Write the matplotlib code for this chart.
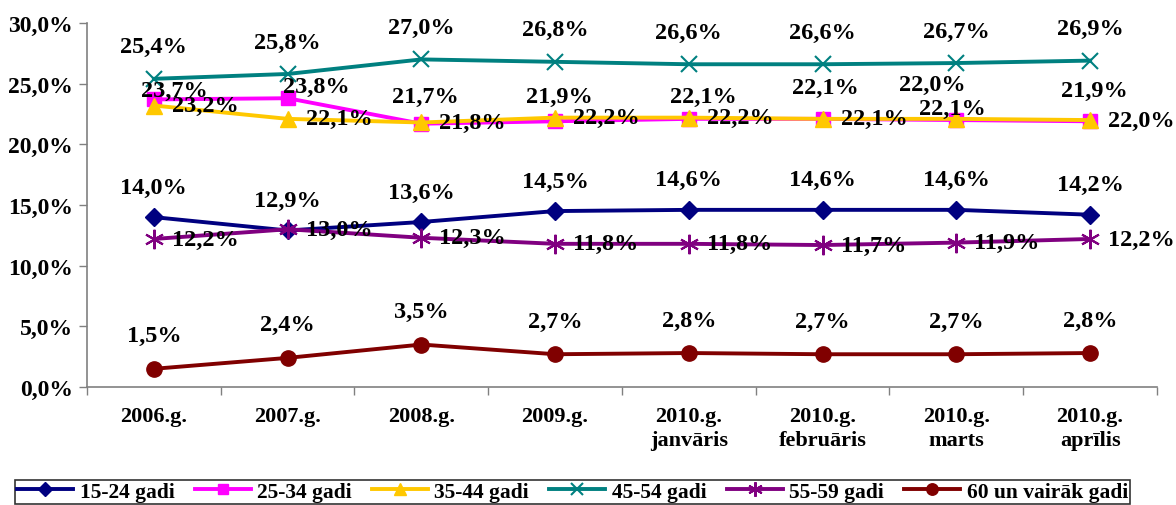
import matplotlib
matplotlib.use("Agg")
import matplotlib.pyplot as plt
from matplotlib.ticker import FixedLocator, FuncFormatter

categories = ["2006.g.", "2007.g.", "2008.g.", "2009.g.", "2010.g.\njanvāris",
              "2010.g.\nfebruāris", "2010.g.\nmarts", "2010.g.\naprīlis"]
series_names = ["15-24 gadi", "25-34 gadi", "35-44 gadi", "45-54 gadi", "55-59 gadi", "60 un vairāk gadi"]
s15_24 = [14.0, 12.9, 13.6, 14.5, 14.6, 14.6, 14.6, 14.2]
s25_34 = [23.7, 23.8, 21.7, 21.9, 22.1, 22.1, 22.0, 21.9]
s35_44 = [23.2, 22.1, 21.8, 22.2, 22.2, 22.1, 22.1, 22.0]
s45_54 = [25.4, 25.8, 27.0, 26.8, 26.6, 26.6, 26.7, 26.9]
s55_59 = [12.2, 13.0, 12.3, 11.8, 11.8, 11.7, 11.9, 12.2]
s60 = [1.5, 2.4, 3.5, 2.7, 2.8, 2.7, 2.7, 2.8]
y_ticks = [0, 5, 10, 15, 20, 25, 30]

plt.rcParams['font.family'] = ['Liberation Serif', 'DejaVu Serif']
plt.rcParams['font.weight'] = 'bold'

fig = plt.figure(figsize=(11.76, 5.06), dpi=100)
ax = fig.add_axes([87/1176, 1 - 388/506, (1157-87)/1176, (388-24)/506])

styles = [
    dict(color="#000080", marker="D", ms=9, mew=1),
    dict(color="#FF00FF", marker="s", ms=10, mew=1),
    dict(color="#FFC800", marker="^", ms=12, mew=1),
    dict(color="#008080", marker="x", ms=12, mew=1.5),
    dict(color="#800080", marker=(6, 2, 0), ms=14, mew=1.5),
    dict(color="#800000", marker="o", ms=11, mew=1),
]
data = [s15_24, s25_34, s35_44, s45_54, s55_59, s60]
x = list(range(len(categories)))
lines = []
for name, vals, st in zip(series_names, data, styles):
    ln, = ax.plot(x, vals, lw=2.8, label=name, color=st["color"], marker=st["marker"],
                  ms=st["ms"], mew=st["mew"], mfc=st["color"], mec=st["color"], clip_on=False)
    lines.append(ln)

fs = 17.5
def lab(xi, v, dx, dy, ha="center"):
    ax.annotate(f"{v:.1f}%".replace(".", ","), (xi, v), xytext=(dx, dy), textcoords="offset pixels",
                ha=ha, va="center", fontsize=fs, fontweight="bold", color="black")

# labels above
for i, v in enumerate(s15_24):
    lab(i, v, 0, 30)
for i, v in enumerate(s45_54):
    lab(i, v, 0, 32)
for i, v in enumerate(s60):
    lab(i, v, 0, 33)
off2534 = [(20, 9), (29, 12), (4, 27), (4, 25), (15, 22), (3, 31), (-24, 36), (4, 31)]
for i, v in enumerate(s25_34):
    lab(i, v, off2534[i][0], off2534[i][1])
for i, v in enumerate(s35_44):
    if i == 6:
        lab(i, v, -4, 10)
    else:
        lab(i, v, 18, 0, ha="left")
for i, v in enumerate(s55_59):
    lab(i, v, 18, 0, ha="left")

ax.set_xlim(-0.5, len(categories) - 0.5)
ax.set_ylim(0, 30)
ax.yaxis.set_major_locator(FixedLocator(y_ticks))
ax.yaxis.set_major_formatter(FuncFormatter(lambda v, p: f"{v:.1f}%".replace(".", ",")))
ax.set_xticks(x)
ax.set_xticklabels(categories, fontsize=16, fontweight="bold", linespacing=1.25)
ax.set_xticks([i - 0.5 for i in range(len(categories) + 1)], minor=True)
ax.tick_params(axis="x", which="major", length=0, pad=14)
ax.tick_params(axis="x", which="minor", length=6, width=1, color="#808080")
ax.tick_params(axis="y", length=6, width=1, color="#808080", labelsize=17, pad=4)
for lbl in ax.get_yticklabels():
    lbl.set_fontweight("bold")
for s in ["top", "right"]:
    ax.spines[s].set_visible(False)
for s in ["left", "bottom"]:
    ax.spines[s].set_color("#808080")
    ax.spines[s].set_linewidth(1.2)

leg = fig.legend(handles=lines, loc="lower left", bbox_to_anchor=(15/1176, 1/506, 1115/1176, 25/506),
                 mode="expand", ncol=6, frameon=True, fancybox=False, edgecolor="black",
                 prop=dict(size=15.5, weight="bold"), handlelength=2.6, handletextpad=0.3,
                 borderaxespad=0, borderpad=0.1, columnspacing=0.4, markerscale=0.75)
leg.get_frame().set_linewidth(1.2)

fig.savefig("out.png", dpi=100)
